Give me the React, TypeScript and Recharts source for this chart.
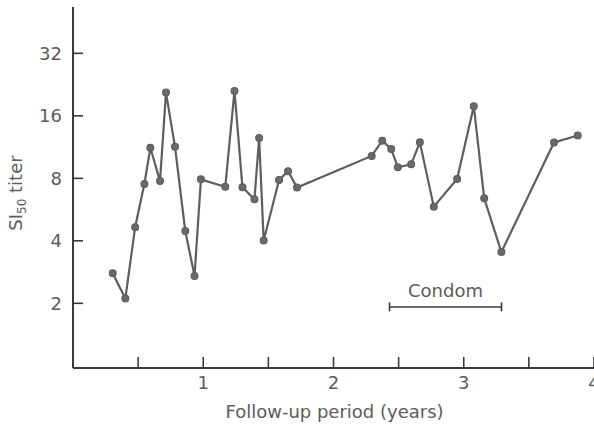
import React from 'react';
import {
  LineChart,
  Line,
  XAxis,
  YAxis,
  ReferenceLine,
  Label,
} from 'recharts';

// Follow-up time of each sample (years) and its SI50 titer
const followUpYears = [
  0.305, 0.402, 0.477, 0.548, 0.594, 0.668, 0.714, 0.783, 0.862, 0.933, 0.982,
  1.169, 1.24, 1.301, 1.393, 1.429, 1.464, 1.582, 1.651, 1.72, 2.293, 2.374,
  2.443, 2.494, 2.596, 2.663, 2.77, 2.949, 3.077, 3.157, 3.289, 3.693, 3.875,
];
const titers = [
  2.79, 2.11, 4.65, 7.51, 11.23, 7.76, 20.7, 11.36, 4.46, 2.71, 7.91, 7.29, 21.1,
  7.24, 6.34, 12.5, 4.01, 7.85, 8.66, 7.22, 10.25, 12.14, 11.07, 9.04, 9.34,
  11.93, 5.84, 7.94, 17.8, 6.41, 3.53, 11.9, 12.86,
];

// Axis ticks
const xTicks = [0.5, 1, 1.5, 2, 2.5, 3, 3.5, 4];
const yTicks = [2, 4, 8, 16, 32];

// Condom-use period
const condomStart = 2.43;
const condomEnd = 3.29;
const condomBarLevel = 1.92;
const condomCapLow = 1.83;
const condomCapHigh = 2.02;

const data = followUpYears.map((year, i) => ({ year, titer: titers[i] }));

const FONT = '"DejaVu Sans", sans-serif';
const TEXT = '#5c5c5c';
const INK = '#3a3a3a';
const SERIES = '#5e5e5e';

const YTitle = (props: any) => {
  const vb = props.viewBox || {};
  const cx = 22;
  const cy = 193;
  return (
    <text
      x={cx}
      y={cy}
      transform={`rotate(-90 ${cx} ${cy})`}
      textAnchor="middle"
      fill={TEXT}
      fontFamily={FONT}
      fontSize={18}
    >
      <tspan>SI</tspan>
      <tspan fontSize={12} dy={4}>50</tspan>
      <tspan dy={-4}> titer</tspan>
    </text>
  );
};

export default function App() {
  return (
    <div style={{ position: 'absolute', left: 0, top: 0, background: '#fff' }}>
      <LineChart
        width={594}
        height={425}
        data={data}
        margin={{ top: 7, right: 0, left: 0, bottom: 0 }}
      >
        <XAxis
          dataKey="year"
          type="number"
          domain={[0, 4]}
          ticks={xTicks}
          interval={0}
          allowDataOverflow
          tickFormatter={(v: number) => (Number.isInteger(v) ? String(v) : '')}
          height={57}
          tickSize={-11}
          tickMargin={19}
          stroke={INK}
          strokeWidth={2}
          tickLine={{ stroke: INK, strokeWidth: 1.6 }}
          tick={{ fill: TEXT, fontSize: 18, fontFamily: FONT }}
        >
          <Label
            value="Follow-up period (years)"
            position="insideBottom"
            offset={7}
            dx={1}
            fill={TEXT}
            fontSize={18}
            fontFamily={FONT}
          />
        </XAxis>
        <YAxis
          dataKey="titer"
          type="number"
          scale="log"
          domain={[0.976, 53.5]}
          ticks={yTicks}
          interval={0}
          allowDataOverflow
          width={73}
          tickSize={-10}
          tickMargin={21}
          stroke={INK}
          strokeWidth={2}
          tickLine={{ stroke: INK, strokeWidth: 1.6 }}
          tick={{ fill: TEXT, fontSize: 18, fontFamily: FONT }}
        >
          <Label content={YTitle} />
        </YAxis>
        <ReferenceLine
          segment={[
            { x: condomStart, y: condomBarLevel },
            { x: condomEnd, y: condomBarLevel },
          ]}
          stroke={INK}
          strokeWidth={1.6}
          ifOverflow="visible"
        >
          <Label
            value="Condom"
            position="top"
            offset={10}
            fill={TEXT}
            fontSize={18}
            fontFamily={FONT}
          />
        </ReferenceLine>
        <ReferenceLine
          segment={[
            { x: condomStart, y: condomCapLow },
            { x: condomStart, y: condomCapHigh },
          ]}
          stroke={INK}
          strokeWidth={1.6}
          ifOverflow="visible"
        />
        <ReferenceLine
          segment={[
            { x: condomEnd, y: condomCapLow },
            { x: condomEnd, y: condomCapHigh },
          ]}
          stroke={INK}
          strokeWidth={1.6}
          ifOverflow="visible"
        />
        <Line
          type="linear"
          dataKey="titer"
          stroke={SERIES}
          strokeWidth={2.2}
          dot={{ r: 3.4, fill: '#6a6a6a', stroke: SERIES, strokeWidth: 1.2 }}
          activeDot={false}
          isAnimationActive={false}
        />
      </LineChart>
    </div>
  );
}
